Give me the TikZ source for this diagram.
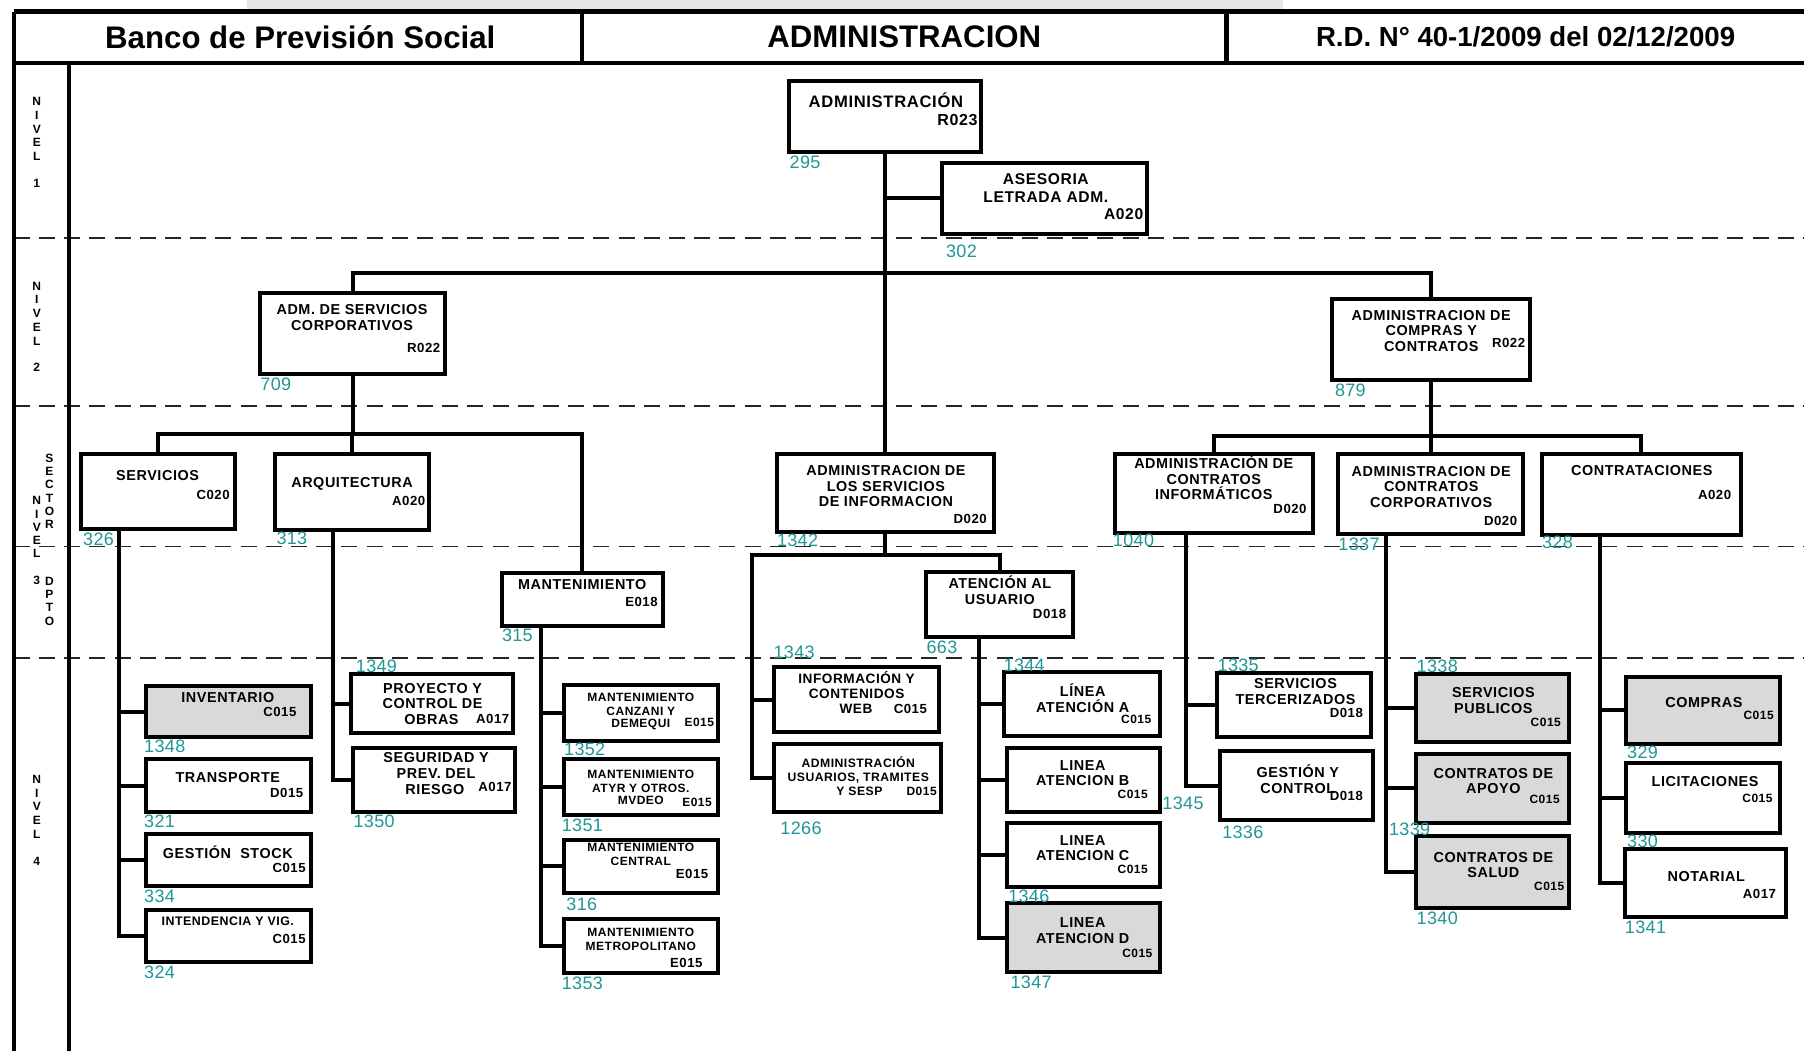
\documentclass[tikz,border=0pt]{standalone}
\usepackage{fontspec}
\setmainfont{Liberation Sans}
\newfontfamily\boxfont[LetterSpace=4]{Liberation Sans}
\newfontfamily\numfont[LetterSpace=2]{Liberation Sans}
\definecolor{numteal}{RGB}{32,150,150}
\definecolor{boxgray}{RGB}{217,217,217}
\definecolor{bargray}{RGB}{230,230,230}
\newcommand{\fsz}[2]{\fontsize{#1}{#2}\selectfont}
\newcommand{\orgbx}[6]{\node[obox,#6,anchor=north west,minimum width={(#4-#2)*0.57525pt},minimum height={(#5-#3)*0.57525pt}] (#1) at (#2,#3) {};}
\tikzset{
 obox/.style={draw, line width=2pt, fill=white, inner sep=0pt, outer sep=0pt},
 gbox/.style={fill=boxgray},
 tx/.style={font={\boxfont\bfseries\fsz{7.2}{7.8}}, align=center, inner sep=0pt},
 tl/.style={font={\boxfont\bfseries\fsz{8.3}{8.6}}, align=center, inner sep=0pt},
 ts/.style={font={\boxfont\bfseries\fsz{6}{6.9}}, align=center, inner sep=0pt},
 cd/.style={font={\boxfont\bfseries\fsz{6.6}{7}}, inner sep=0pt, anchor=east},
 cds/.style={font={\boxfont\bfseries\fsz{6}{6}}, inner sep=0pt, anchor=east},
 num/.style={font={\numfont\fsz{9}{10}}, text=numteal, inner sep=0pt, anchor=west},
 conn/.style={line width=2pt},
 dashline/.style={line width=0.8pt, dash pattern=on 8pt off 4.6pt, draw=black!85},
 frame/.style={line width=2.2pt},
 lvl/.style={font={\boxfont\bfseries\fsz{6}{6.9}}, align=center, inner sep=0pt},
 hdr/.style={font={\bfseries\fsz{15.6}{16}}, inner sep=0pt},
}
\begin{document}
\begin{tikzpicture}[x=0.57525pt, y=-0.57525pt]
\useasboundingbox (0,0) rectangle (1568,913);
\fill[white] (0,0) rectangle (1568,913);
% top gray bar
\fill[bargray] (215,0) rectangle (1115,8.5);
% dashed level separators
\foreach \yy in {207,353,475,572} {\draw[dashline] (12,\yy) -- (1580,\yy);}
% frame
\draw[frame] (12,10) -- (1580,10);
\draw[frame] (12,55) -- (1580,55);
\draw[frame] (12,10) -- (12,925);
\draw[frame] (60,55) -- (60,925);
\draw[frame] (506,10) -- (506,55);
\draw[frame] (1066,10) -- (1066,55);
% header texts
\node[hdr] (h1) at (261,32) {Banco de Previsión Social};
\node[hdr] (h2) at (786,32) {ADMINISTRACION};
\node[hdr,font={\bfseries\fsz{13.8}{14}}] (h3) at (1326,32) {R.D. N° 40-1/2009 del 02/12/2009};
% level labels
\node[lvl] (l1) at (32,123.5) {N\\I\\V\\E\\L\\[6.3pt]1};
\node[lvl] (l2) at (32,284) {N\\I\\V\\E\\L\\[6.3pt]2};
\node[lvl,font={\boxfont\bfseries\fsz{6}{6.6}}] (l3) at (32,470) {N\\I\\V\\E\\L\\[7pt]3};
\node[lvl,font={\boxfont\bfseries\fsz{6}{6.6}}] (l3s) at (43,427) {S\\E\\C\\T\\O\\R};
\node[lvl,font={\boxfont\bfseries\fsz{6}{6.6}}] (l3d) at (43,522.5) {D\\P\\T\\O};
\node[lvl] (l4) at (32,713) {N\\I\\V\\E\\L\\[6.6pt]4};

% coordinates for buses and spines
\coordinate (bus1) at (0,237);
\coordinate (bus2) at (0,377);
\coordinate (bus3) at (0,379);
\coordinate (bus4) at (0,482);
\coordinate (sp1) at (103,0);
\coordinate (sp2) at (289,0);
\coordinate (sp3) at (470,0);
\coordinate (sp4) at (654,0);
\coordinate (sp5) at (851,0);
\coordinate (sp6) at (1031,0);
\coordinate (sp7) at (1205,0);
\coordinate (sp8) at (1391,0);

% ---------- boxes ----------
\orgbx{adm}{686}{70}{853}{132}{}
\orgbx{ases}{819}{142}{997}{203}{}
\orgbx{asc}{226}{255}{387}{325}{}
\orgbx{acc}{1158}{260}{1330}{330}{}
\orgbx{serv}{70}{395}{204}{460}{}
\orgbx{arq}{239}{395}{373}{461}{}
\orgbx{mant}{436}{498}{576}{544}{}
\orgbx{asi}{675}{395}{864}{462}{}
\orgbx{atu}{805}{497}{933}{554}{}
\orgbx{aci}{969}{395}{1141}{463}{}
\orgbx{acp}{1163}{395}{1324}{464}{}
\orgbx{con}{1340}{395}{1513}{465}{}
\orgbx{inv}{127}{596}{270}{641}{gbox}
\orgbx{tra}{127}{660}{270}{706}{}
\orgbx{gst}{127}{725}{270}{770}{}
\orgbx{itd}{127}{791}{270}{836}{}
\orgbx{pco}{305}{586}{446}{637}{}
\orgbx{seg}{307}{650}{448}{706}{}
\orgbx{mcd}{490}{595}{624}{644}{}
\orgbx{mat}{490}{660}{624}{708}{}
\orgbx{mce}{490}{730}{624}{776}{}
\orgbx{mme}{490}{799}{624}{846}{}
\orgbx{inf}{673}{580}{816}{636}{}
\orgbx{adu}{673}{647}{818}{706}{}
\orgbx{lna}{873}{584}{1008}{640}{}
\orgbx{lnb}{875}{650}{1008}{706}{}
\orgbx{lnc}{875}{715}{1008}{771}{}
\orgbx{lnd}{875}{785}{1008}{845}{gbox}
\orgbx{ste}{1058}{585}{1192}{641}{}
\orgbx{gyc}{1060}{653}{1193}{713}{}
\orgbx{spu}{1231}{586}{1364}{645}{gbox}
\orgbx{cap}{1231}{655}{1364}{715}{gbox}
\orgbx{csa}{1231}{727}{1364}{789}{gbox}
\orgbx{cmp}{1413}{588}{1547}{647}{gbox}
\orgbx{lic}{1413}{663}{1547}{724}{}
\orgbx{ntr}{1412}{738}{1552}{797}{}

% ---------- connectors ----------
\draw[conn] (adm.south) -- (asi.north);
\draw[conn] (ases.west) -- (ases.west -| adm.south);
\draw[conn] (asc.north) -- (asc.north |- bus1) -- (acc.north |- bus1) -- (acc.north);
\draw[conn] (asc.south) -- (asc.south |- bus2);
\draw[conn] (serv.north) -- (serv.north |- bus2) -- (mant.north |- bus2) -- (mant.north);
\draw[conn] (arq.north) -- (arq.north |- bus2);
\draw[conn] (acc.south) -- (acc.south |- bus3);
\draw[conn] (aci.north) -- (aci.north |- bus3) -- (con.north |- bus3) -- (con.north);
\draw[conn] (acp.north) -- (acp.north |- bus3);
\draw[conn] (asi.south) -- (asi.south |- bus4);
\draw[conn] (atu.north) -- (atu.north |- bus4) -- (sp4 |- bus4) -- (sp4 |- adu.west) -- (adu.west);
\draw[conn] (inf.west) -- (inf.west -| sp4);
% servicios
\draw[conn] (sp1 |- serv.south) -- (sp1 |- itd.west) -- (itd.west);
\draw[conn] (inv.west) -- (inv.west -| sp1);
\draw[conn] (tra.west) -- (tra.west -| sp1);
\draw[conn] (gst.west) -- (gst.west -| sp1);
% arquitectura
\draw[conn] (sp2 |- arq.south) -- (sp2 |- seg.west) -- (seg.west);
\draw[conn] (pco.west) -- (pco.west -| sp2);
% mantenimiento
\draw[conn] (sp3 |- mant.south) -- (sp3 |- mme.west) -- (mme.west);
\draw[conn] (mcd.west) -- (mcd.west -| sp3);
\draw[conn] (mat.west) -- (mat.west -| sp3);
\draw[conn] (mce.west) -- (mce.west -| sp3);
% atencion
\draw[conn] (sp5 |- atu.south) -- (sp5 |- lnd.west) -- (lnd.west);
\draw[conn] (lna.west) -- (lna.west -| sp5);
\draw[conn] (lnb.west) -- (lnb.west -| sp5);
\draw[conn] (lnc.west) -- (lnc.west -| sp5);
% contratos informaticos
\draw[conn] (sp6 |- aci.south) -- (sp6 |- gyc.west) -- (gyc.west);
\draw[conn] (ste.west) -- (ste.west -| sp6);
% contratos corporativos
\draw[conn] (sp7 |- acp.south) -- (sp7 |- csa.west) -- (csa.west);
\draw[conn] (spu.west) -- (spu.west -| sp7);
\draw[conn] (cap.west) -- (cap.west -| sp7);
% contrataciones
\draw[conn] (sp8 |- con.south) -- (sp8 |- ntr.west) -- (ntr.west);
\draw[conn] (cmp.west) -- (cmp.west -| sp8);
\draw[conn] (lic.west) -- (lic.west -| sp8);

% ---------- texts ----------
\node[tl] (adm-t) at (770,87) {ADMINISTRACIÓN};
\node[cd,font={\boxfont\bfseries\fsz{8}{8}}] (adm-c) at (850,104) {R023};
\node[tl,font={\boxfont\bfseries\fsz{7.8}{8.6}}] (ases-t) at (909,163.5) {ASESORIA\\LETRADA ADM.};
\node[cd,font={\boxfont\bfseries\fsz{7.8}{8}}] (ases-c) at (994,186) {A020};
\node[tx] (asc-t) at (306,276) {ADM. DE SERVICIOS\\CORPORATIVOS};
\node[cd] (asc-c) at (383,302) {R022};
\node[tx] (acc-t) at (1244,287.5) {ADMINISTRACION DE\\COMPRAS Y\\CONTRATOS};
\node[cd] (acc-c) at (1326,298) {R022};
\node[tx] (serv-t) at (137,413) {SERVICIOS};
\node[cd] (serv-c) at (200,430) {C020};
\node[tx] (arq-t) at (306,421) {ARQUITECTURA};
\node[cd] (arq-c) at (370,435) {A020};
\node[tx] (mant-t) at (506,508) {MANTENIMIENTO};
\node[cd] (mant-c) at (572,523) {E018};
\node[tx] (asi-t) at (770,422.5) {ADMINISTRACION DE\\LOS SERVICIOS\\DE INFORMACION};
\node[cd] (asi-c) at (858,451) {D020};
\node[tx] (atu-t) at (869,513) {ATENCIÓN AL\\USUARIO};
\node[cd] (atu-c) at (927,534) {D018};
\node[tx] (aci-t) at (1055,415.5) {ADMINISTRACIÓN DE\\CONTRATOS\\INFORMÁTICOS};
\node[cd] (aci-c) at (1136,442) {D020};
\node[tx] (acp-t) at (1244,423) {ADMINISTRACION DE\\CONTRATOS\\CORPORATIVOS};
\node[cd] (acp-c) at (1319,453) {D020};
\node[tx] (con-t) at (1427,409) {CONTRATACIONES};
\node[cd] (con-c) at (1505,430) {A020};
% level 4
\node[tx] (inv-t) at (198,606) {INVENTARIO};
\node[cd] (inv-c) at (258,619) {C015};
\node[tx] (tra-t) at (198,676) {TRANSPORTE};
\node[cd] (tra-c) at (264,689) {D015};
\node[tx] (gst-t) at (198,741) {GESTIÓN\ \ STOCK};
\node[cd] (gst-c) at (266,754) {C015};
\node[ts,font={\boxfont\bfseries\fsz{6.2}{7}}] (itd-t) at (198,801) {INTENDENCIA Y VIG.};
\node[cd] (itd-c) at (266,816) {C015};
\node[tx] (pco-t) at (376,605) {PROYECTO Y\\CONTROL DE};
\node[tx] (pco-t2) at (375,625) {OBRAS};
\node[cd] (pco-c) at (443,625) {A017};
\node[tx] (seg-t) at (379,665.5) {SEGURIDAD Y\\PREV. DEL};
\node[tx] (seg-t2) at (378,686) {RIESGO};
\node[cd] (seg-c) at (445,684) {A017};
\node[ts] (mcd-t) at (557,612.5) {MANTENIMIENTO\\CANZANI Y};
\node[ts] (mcd-t2) at (557,630) {DEMEQUI};
\node[cds] (mcd-c) at (621,627.5) {E015};
\node[ts] (mat-t) at (557,679) {MANTENIMIENTO\\ATYR Y OTROS.};
\node[ts] (mat-t2) at (557,696) {MVDEO};
\node[cds] (mat-c) at (619,697) {E015};
\node[ts] (mce-t) at (557,742.5) {MANTENIMIENTO\\CENTRAL};
\node[cd] (mce-c) at (616,760) {E015};
\node[ts] (mme-t) at (557,816.5) {MANTENIMIENTO\\METROPOLITANO};
\node[cd] (mme-c) at (611,837) {E015};
\node[tx,font={\boxfont\bfseries\fsz{6.8}{7.8}}] (inf-t) at (744.5,595.5) {INFORMACIÓN Y\\CONTENIDOS};
\node[tx,font={\boxfont\bfseries\fsz{6.8}{7.8}}] (inf-t2) at (744,616.5) {WEB};
\node[cd] (inf-c) at (806,616.5) {C015};
\node[ts,font={\boxfont\bfseries\fsz{6.1}{7.2}}] (adu-t) at (746,669.5) {ADMINISTRACIÓN\\USUARIOS, TRAMITES};
\node[ts,font={\boxfont\bfseries\fsz{6.1}{7.2}}] (adu-t2) at (747,688) {Y SESP};
\node[cds] (adu-c) at (814.5,688) {D015};
\node[tx] (lna-t) at (941,607) {LÍNEA\\ATENCIÓN A};
\node[cds] (lna-c) at (1001,625) {C015};
\node[tx] (lnb-t) at (941,672) {LINEA\\ATENCION B};
\node[cds] (lnb-c) at (998,690) {C015};
\node[tx] (lnc-t) at (941,737) {LINEA\\ATENCION C};
\node[cds] (lnc-c) at (998,756) {C015};
\node[tx] (lnd-t) at (941,809) {LINEA\\ATENCION D};
\node[cds] (lnd-c) at (1002,829) {C015};
\node[tx] (ste-t) at (1126,601) {SERVICIOS\\TERCERIZADOS};
\node[cd] (ste-c) at (1185,620) {D018};
\node[tx] (gyc-t) at (1128,677) {GESTIÓN Y\\CONTROL};
\node[cd] (gyc-c) at (1185,692) {D018};
\node[tx] (spu-t) at (1298,609) {SERVICIOS\\PUBLICOS};
\node[cds] (spu-c) at (1357,628) {C015};
\node[tx] (cap-t) at (1298,679) {CONTRATOS DE\\APOYO};
\node[cds] (cap-c) at (1356,695) {C015};
\node[tx] (csa-t) at (1298,752) {CONTRATOS DE\\SALUD};
\node[cds] (csa-c) at (1360,770) {C015};
\node[tx] (cmp-t) at (1481,611) {COMPRAS};
\node[cds] (cmp-c) at (1542,622) {C015};
\node[tx] (lic-t) at (1482,679) {LICITACIONES};
\node[cds] (lic-c) at (1541,694) {C015};
\node[tx] (ntr-t) at (1483,762) {NOTARIAL};
\node[cd] (ntr-c) at (1544,777) {A017};

% ---------- numbers ----------
\node[num] (adm-n) at (686,141) {295};
\node[num] (ases-n) at (822,218) {302};
\node[num] (asc-n) at (226,334) {709};
\node[num] (acc-n) at (1160,339) {879};
\node[num] (serv-n) at (72,469) {326};
\node[num] (arq-n) at (240,468) {313};
\node[num] (mant-n) at (436,552) {315};
\node[num] (asi-n) at (675,470) {1342};
\node[num] (atu-n) at (805,563) {663};
\node[num] (aci-n) at (967,470) {1040};
\node[num] (acp-n) at (1163,473) {1337};
\node[num] (con-n) at (1340,471) {328};
\node[num] (inv-n) at (125,649) {1348};
\node[num] (tra-n) at (125,714) {321};
\node[num] (gst-n) at (125,779) {334};
\node[num] (itd-n) at (125,845) {324};
\node[num] (pco-n) at (309,579) {1349};
\node[num] (seg-n) at (307,714) {1350};
\node[num] (mcd-n) at (490,651) {1352};
\node[num] (mat-n) at (488,717) {1351};
\node[num] (mce-n) at (492,786) {316};
\node[num] (mme-n) at (488,855) {1353};
\node[num] (inf-n) at (672,567) {1343};
\node[num] (adu-n) at (678,720) {1266};
\node[num] (lna-n) at (872,578) {1344};
\node[num] (lnb-n) at (1010,698) {1345};
\node[num] (lnc-n) at (876,779) {1346};
\node[num] (lnd-n) at (878,854) {1347};
\node[num] (ste-n) at (1058,578) {1335};
\node[num] (gyc-n) at (1062,723) {1336};
\node[num] (spu-n) at (1231,579) {1338};
\node[num] (cap-n) at (1207,721) {1339};
\node[num] (csa-n) at (1231,798) {1340};
\node[num] (cmp-n) at (1414,654) {329};
\node[num] (lic-n) at (1414,731) {330};
\node[num] (ntr-n) at (1412,806) {1341};
\end{tikzpicture}
\end{document}
